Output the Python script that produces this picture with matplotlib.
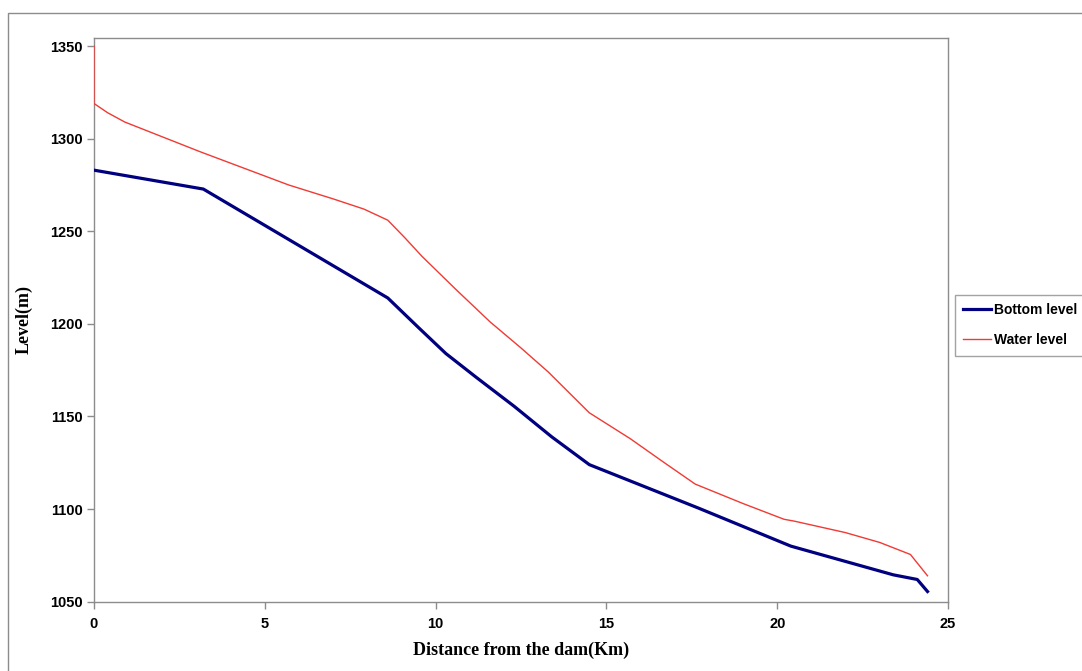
import matplotlib
matplotlib.use("Agg")
import matplotlib.pyplot as plt
from matplotlib.patches import Rectangle

# river profile downstream of the dam
bottom_km = [0.0, 3.2, 8.6, 9.5, 10.3, 11.2, 12.3, 13.4, 14.5, 17.7, 20.4, 23.4, 24.1, 24.4]
bottom_lvl = [1283, 1272.8, 1214, 1198, 1184, 1171, 1155.5, 1139, 1124, 1100.5, 1080, 1064.5, 1062, 1055.5]

water_km = [0.0, 0.0, 0.4, 0.9, 2.0, 3.1, 4.4, 5.7, 7.0, 7.9, 8.6, 9.1, 9.6, 10.6, 11.6, 12.5,
            13.3, 14.5, 15.7, 16.7, 17.6, 19.0, 20.2, 20.5, 22.0, 23.0, 23.9, 24.4]
water_lvl = [1350, 1319, 1314, 1309, 1301, 1293, 1284, 1275, 1267.5, 1262, 1256, 1246.5, 1236.5,
             1218.5, 1201, 1187, 1174, 1152, 1138, 1125, 1113.5, 1103, 1094.5, 1093.5, 1087.3,
             1082, 1075.5, 1064]

x_ticks = [0, 5, 10, 15, 20, 25]
y_ticks = [1050, 1100, 1150, 1200, 1250, 1300, 1350]

fig = plt.figure(figsize=(10.82, 6.71), dpi=100)
ax = fig.add_axes([94 / 1082, 1 - 601.7 / 671, (948 - 94) / 1082, (601.7 - 38.3) / 671])

# outer chart-area border
fig.patches.append(Rectangle((8 / 1082, -0.1), 1.2, 1.1 - 13 / 671, transform=fig.transFigure,
                             fill=False, edgecolor="#8c8c8c", linewidth=1.0))

ax.plot(bottom_km, bottom_lvl, color="#000080", linewidth=2.3, label="Bottom level",
        solid_joinstyle="round", zorder=3)
ax.plot(water_km, water_lvl, color="#f03a34", linewidth=1.0, label="Water level", zorder=3)

ax.set_xlim(0, 25)
ax.set_ylim(1050, 1354.2)
ax.set_xticks(x_ticks)
ax.set_yticks(y_ticks)
for s in ax.spines.values():
    s.set_color("#8c8c8c")
    s.set_linewidth(1.0)
ax.tick_params(direction="out", length=5, width=1, color="#8c8c8c", pad=3)
for lab in ax.get_xticklabels() + ax.get_yticklabels():
    lab.set_fontfamily("Liberation Sans")
    lab.set_fontweight("bold")
    lab.set_fontsize(10.5)
ax.tick_params(axis="x", pad=6)

ax.set_xlabel("Distance from the dam(Km)", fontfamily="Liberation Serif", fontweight="bold",
              fontsize=13, labelpad=8)
ax.set_ylabel("Level(m)", fontfamily="Liberation Serif", fontweight="bold",
              fontsize=13, labelpad=13)

leg = fig.legend(loc="upper left", bbox_to_anchor=(955 / 1082, 1 - 295 / 671),
                 prop={"family": "Liberation Sans", "weight": "bold", "size": 10},
                 frameon=True, fancybox=False, handlelength=2.0, handletextpad=0.2,
                 labelspacing=1.15, borderpad=0.6, borderaxespad=0)
leg.get_frame().set_edgecolor("#8c8c8c")
leg.get_frame().set_linewidth(1.0)

fig.savefig("out.png", dpi=100)
